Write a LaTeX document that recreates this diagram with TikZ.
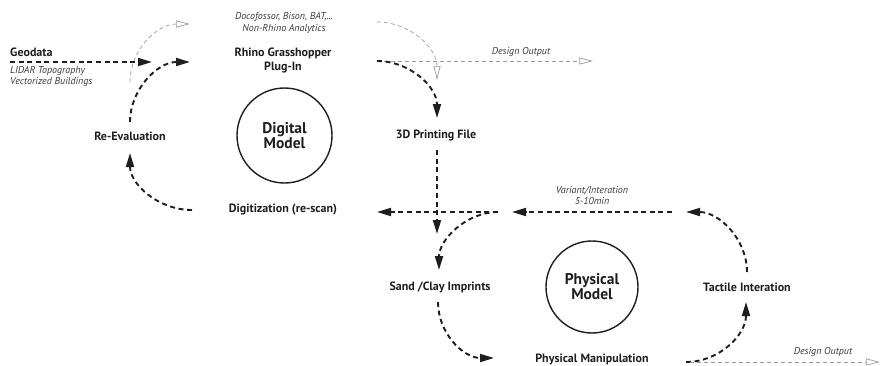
\documentclass[tikz,border=0pt]{standalone}
\usepackage{fontspec}
\setmainfont{PT Sans}
\usetikzlibrary{arrows.meta}
\definecolor{ink}{HTML}{1E1E1E}
\definecolor{note}{HTML}{3C3C3C}
\definecolor{faint}{HTML}{9A9A9A}
\tikzset{
  label/.style={font=\bfseries\fontsize{12}{14}\selectfont, text=ink, align=center, inner sep=0pt},
  remark/.style={font=\itshape\fontsize{10}{11.5}\selectfont, text=note, align=center, inner sep=0pt},
  hub/.style={circle, draw=ink, line width=1.4pt, minimum size=95pt, inner sep=0pt,
    font=\bfseries\fontsize{15.5}{18}\selectfont, text=ink, align=center},
  flow/.style={draw=ink, line width=1.9pt, dash pattern=on 5pt off 3.6pt,
    -{Triangle[length=14pt,width=8pt]}},
  side/.style={draw=faint, line width=0.7pt, dash pattern=on 4pt off 3pt,
    -{Triangle[open,length=14pt,width=7pt,line width=0.7pt]}}
}
\begin{document}
\begin{tikzpicture}[x=1pt,y=-1pt]
\useasboundingbox (0,0) rectangle (885,365);

% hubs
\node[hub] (digital) at (284.5,135.5) {Digital\\[-3pt]Model};
\node[hub, minimum size=92pt] (physical) at (592,287) {Physical\\[-3pt]Model};

% stage labels
\node[label, anchor=west] (geo) at (10,52) {Geodata};
\node[remark, anchor=north west, align=left] (geonote) at (10,66) {LIDAR Topography\\Vectorized Buildings};
\node[remark] (analytics) at (284,23) {Docofossor, Bison, BAT,...\\Non-Rhino Analytics};
\node[label] (rhino) at (283,60) {Rhino Grasshopper\\Plug-In};
\node[label] (reeval) at (130,136) {Re-Evaluation};
\node[label] (print) at (436,136) {3D Printing File};
\node[label] (digit) at (283,209.5) {Digitization (re-scan)};
\node[label] (sand) at (440,287) {Sand /Clay Imprints};
\node[label] (tactile) at (747,287) {Tactile Interation};
\node[label] (manip) at (592,359) {Physical Manipulation};
\node[remark] (variant) at (592,195.5) {Variant/Interation\\5-10min};
\node[remark] (out1) at (521,52) {Design Output};
\node[remark] (out2) at (823,352) {Design Output};

% connector ends
\coordinate (geoA) at (10,62);      \coordinate (geoB) at (152,62);
\coordinate (anA) at (130,82);      \coordinate (anB) at (190,24);
\coordinate (anC) at (377,22);      \coordinate (anD) at (437,80);
\coordinate (reA) at (130,122);     \coordinate (rhA) at (190,62);
\coordinate (rhB) at (377,61);      \coordinate (prA) at (437,118);
\coordinate (prB) at (437,150);     \coordinate (saA) at (437,234);
\coordinate (o1A) at (377,61);      \coordinate (o1B) at (593,61);
\coordinate (diA) at (192,210);     \coordinate (reB) at (130,153);
\coordinate (vaA) at (672,212);     \coordinate (vaB) at (512,212);
\coordinate (vaC) at (498,212);     \coordinate (diB) at (377,212);
\coordinate (saB) at (439,270);
\coordinate (saC) at (438,302);     \coordinate (maA) at (494,358);
\coordinate (maB) at (686,362);     \coordinate (taA) at (746,302);
\coordinate (taB) at (747,272);     \coordinate (vaD) at (686,212);
\coordinate (o2A) at (690,362);     \coordinate (o2B) at (880,362);

% analytics loop and design output (digital side)
\draw[side] (anA) .. controls (130,50) and (157,24) .. (anB);
\draw[side] (anC) .. controls (410,22) and (437,48) .. (anD);
\draw[side] (o1A) -- (o1B);

% digital loop
\draw[flow] (geoA) -- (geoB);
\draw[flow] (reA) .. controls (130,90) and (157,62) .. (rhA);
\draw[flow] (rhB) .. controls (410,61) and (437,87) .. (prA);
\draw[flow] (prB) -- (saA);
\draw[flow] (diA) .. controls (158,210) and (130,184) .. (reB);

% physical loop
\draw[flow] (vaA) -- (vaB);
\draw[flow] (vaC) -- (diB);
\draw[flow] (vaC) .. controls (466,212) and (439,240) .. (saB);
\draw[flow] (saC) .. controls (438,333) and (463,358) .. (maA);
\draw[flow] (maB) .. controls (719,362) and (746,335) .. (taA);
\draw[flow] (taB) .. controls (747,239) and (719,212) .. (vaD);

% design output (physical side)
\draw[side] (o2A) -- (o2B);
\end{tikzpicture}
\end{document}
